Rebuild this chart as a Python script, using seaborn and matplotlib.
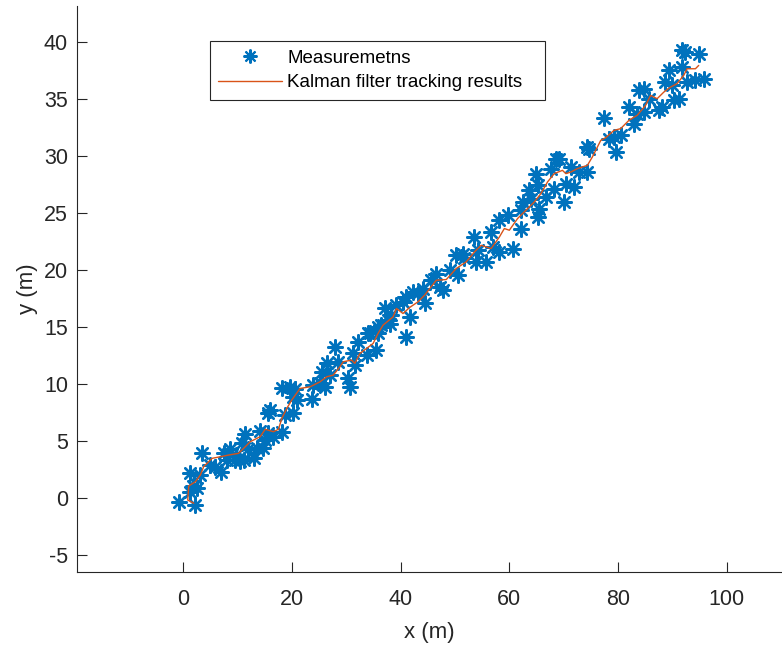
import numpy as np
import pandas as pd
import matplotlib
matplotlib.use("Agg")
import matplotlib.pyplot as plt
import seaborn as sns
from matplotlib.lines import Line2D

# Measurements (x, y) in metres
meas_x = [-0.86, 2.20, 1.16, 2.51, 1.83, 1.28, 3.12, 3.43, 4.83, 5.87, 6.97, 7.39, 8.62, 8.02, 9.54,
          10.46, 11.06, 9.72, 10.77, 11.38, 11.80, 12.90, 13.52, 14.13, 14.73, 15.05, 16.57, 18.11,
          15.65, 15.96, 18.72, 20.24, 15.60,
          18.11, 19.63, 20.55, 20.24, 23.91, 23.61, 25.14, 25.45, 26.37, 26.06, 26.97, 27.89, 28.50,
          30.33, 30.64, 31.25, 31.56, 32.17, 33.71, 34.00, 35.54, 35.83, 37.06, 37.67, 38.29, 20.86,
          36.46,
          34.31, 35.83, 37.98, 39.21, 40.42, 41.05, 41.65, 41.05, 42.26, 43.17, 44.40, 44.09, 45.63,
          46.55, 47.16, 47.76, 48.99, 50.51, 50.22, 51.43, 53.58, 53.89, 54.18, 55.72, 56.64,
          51.74, 56.94, 58.17, 58.17, 59.69, 60.61, 62.15, 62.15, 62.44, 63.98, 63.67, 64.90, 65.19,
          65.50, 65.19, 66.73, 68.26, 67.65, 68.57, 70.09, 70.40, 71.32, 71.93, 72.84, 74.37, 74.37,
          69.17, 74.68, 77.43, 78.35, 79.27, 79.58, 80.49, 82.02, 82.94, 83.54, 83.85, 84.77, 84.77,
          85.69, 87.52, 88.75, 89.36, 89.97, 90.28, 91.19, 91.80, 91.80, 94.26, 94.86, 95.78, 92.72,
          92.30, 88.07]
meas_y = [-0.32, -0.61, 0.55, 0.85, 1.05, 2.22, 2.02, 3.92, 2.89, 2.75, 2.31, 3.92, 4.27, 3.33, 3.33,
          3.25, 3.33, 3.77, 4.80, 5.59, 4.27, 3.48, 4.36, 5.88, 4.36, 5.09, 5.38, 5.82,
          7.48, 7.72, 7.28, 7.48, 5.70,
          9.62, 9.71, 9.54, 8.89, 9.91, 8.66, 10.06, 11.08, 11.82, 9.76, 10.79, 13.27, 11.96,
          10.50, 9.76, 12.69, 11.67, 13.71, 12.54, 14.45, 12.98, 14.45, 16.64, 15.61, 16.05, 8.60,
          15.18,
          14.45, 15.03, 15.32, 16.93, 17.22, 14.15, 15.90, 17.66, 18.10, 17.96, 17.08, 18.39, 19.12,
          19.71, 18.54, 18.25, 20.00, 19.56, 21.32, 21.46, 22.92, 20.73, 21.75, 20.73, 23.36,
          21.03, 22.04, 21.61, 24.39, 24.82, 21.90, 23.66, 25.26, 25.99, 26.29, 27.02, 28.48, 27.46,
          25.41, 24.68, 26.43, 27.17, 28.92, 29.80, 25.99, 27.61, 29.06, 27.31, 28.62, 28.62, 30.82,
          29.80, 30.68, 33.39, 31.55, 31.69, 30.38, 31.84, 34.32, 32.87, 33.75, 35.79, 35.94, 33.89,
          35.06, 34.04, 36.52, 37.54, 36.23, 34.91, 35.06, 37.83, 39.30, 36.67, 39.01, 36.82, 36.52,
          39.12, 34.32]

# Kalman filter track
kf_x = [1.89, 0.79, 0.97, 2.20, 3.12, 3.72, 5.27, 6.79, 8.31, 10.15, 11.38, 12.29, 14.13, 15.05,
        16.57, 17.49, 18.11, 19.03, 19.94, 21.47, 23.30, 25.14, 26.37, 27.58, 28.81, 29.41, 30.95,
        31.56, 32.48, 33.71, 34.92, 35.83, 36.75, 38.59, 39.21, 40.42, 41.65, 43.17, 44.40, 46.55,
        48.39, 50.22, 52.06, 53.58, 54.81, 56.64, 58.17, 59.08, 60.00, 61.52, 63.36, 64.59, 65.82,
        67.03, 68.26, 69.78, 70.40, 71.32, 72.53, 74.37, 75.28, 76.83, 77.74, 79.27, 80.49, 82.02,
        83.54, 85.08, 86.00, 87.21, 88.44, 89.67, 90.88, 92.11, 92.72, 94.26, 94.86]
kf_y = [-0.46, -0.18, 1.05, 1.43, 2.02, 2.75, 3.48, 3.62, 3.77, 3.92, 4.50, 4.94, 5.38, 6.03,
        5.82, 6.03, 6.99, 7.87, 8.60, 9.62, 9.76, 10.20, 10.64, 10.79, 11.52, 11.96, 12.11,
        11.82, 12.69, 13.13, 13.57, 14.45, 15.18, 15.90, 16.64, 16.20, 16.73, 17.22, 17.81, 19.12,
        19.18, 20.15, 20.73, 21.61, 22.19, 21.90, 22.92, 23.66, 23.51, 24.54, 25.41, 25.99, 26.73,
        27.75, 28.48, 28.77, 28.48, 28.62, 28.92, 29.21, 29.94, 31.40, 31.64, 32.28, 32.43, 33.16,
        33.60, 34.47, 35.35, 35.06, 35.64, 36.08, 36.38, 37.11, 37.69, 37.69, 37.98]

x_ticks = [0, 20, 40, 60, 80, 100]
y_ticks = [-5, 0, 5, 10, 15, 20, 25, 30, 35, 40]

BLUE = "#0072BD"
ORANGE = "#D95319"
AX = "#262626"

sns.set_style("white")
plt.rcParams["font.family"] = ["Liberation Sans", "DejaVu Sans"]
plt.rcParams["axes.unicode_minus"] = False

fig = plt.figure(figsize=(7.82, 6.46), dpi=100)
ax = fig.add_axes([77 / 782, 74 / 646, 705 / 782, 566 / 646])

df_m = pd.DataFrame({"x": meas_x, "y": meas_y})
df_k = pd.DataFrame({"x": kf_x, "y": kf_y})

sns.scatterplot(data=df_m, x="x", y="y", ax=ax, marker=(8, 2, 0), s=110,
                color=BLUE, edgecolor=BLUE, linewidth=1.7, zorder=2)
sns.lineplot(data=df_k, x="x", y="y", ax=ax, sort=False, estimator=None,
             color=ORANGE, linewidth=1.0, zorder=3)

ax.set_xlim(-19.6, 110.2)
ax.set_ylim(-6.5, 43.2)
ax.set_xticks(x_ticks)
ax.set_yticks(y_ticks)
ax.tick_params(direction="in", length=7, width=0.8, colors=AX, labelsize=15.5,
               left=True, bottom=True, top=False, right=False)
ax.tick_params(axis="x", pad=12)
ax.tick_params(axis="y", pad=6.5)
for s in ["top", "right"]:
    ax.spines[s].set_visible(False)
for s in ["left", "bottom"]:
    ax.spines[s].set_color(AX)
    ax.spines[s].set_linewidth(0.8)

ax.set_xlabel("x (m)", fontsize=16, color=AX, labelpad=9)
ax.set_ylabel("y (m)", fontsize=16, color=AX, labelpad=4)

handles = [
    Line2D([], [], linestyle="none", marker=(8, 2, 0), markersize=10,
           markeredgewidth=1.5, color=BLUE),
    Line2D([], [], color=ORANGE, linewidth=1.0),
]
leg = ax.legend(handles, ["Measuremetns", "Kalman filter tracking results"],
                loc="upper left", bbox_to_anchor=(0.188, 0.0, 0.476, 0.938),
                mode="expand", borderaxespad=0,
                fontsize=13.5, frameon=True, fancybox=False, framealpha=1,
                handlelength=3.4, handletextpad=0.3, labelspacing=0.4,
                borderpad=0.45)
leg.get_frame().set_edgecolor(AX)
leg.get_frame().set_linewidth(0.8)
for t in leg.get_texts():
    t.set_color("black")

fig.savefig("out.png", dpi=100)
